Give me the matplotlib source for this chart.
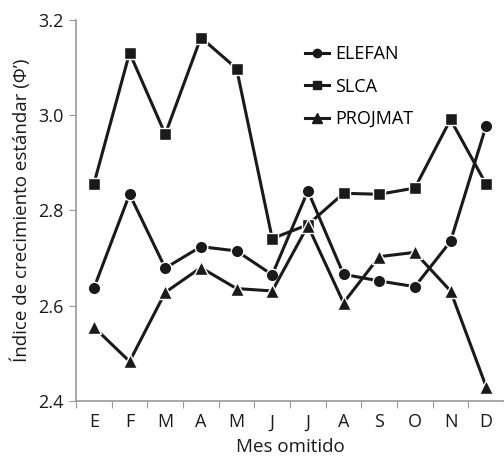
import matplotlib
matplotlib.use('Agg')
import matplotlib.pyplot as plt
from matplotlib.lines import Line2D

meses = ['E', 'F', 'M', 'A', 'M', 'J', 'J', 'A', 'S', 'O', 'N', 'D']
elefan = [2.637, 2.834, 2.679, 2.724, 2.715, 2.665, 2.841, 2.666, 2.652, 2.640, 2.735, 2.978]
slca = [2.856, 3.131, 2.960, 3.163, 3.098, 2.741, 2.770, 2.836, 2.834, 2.847, 2.991, 2.855]
projmat = [2.555, 2.483, 2.628, 2.680, 2.636, 2.631, 2.768, 2.606, 2.703, 2.712, 2.631, 2.430]

plt.rcParams['font.family'] = ['Open Sans', 'DejaVu Sans']
ink = '#1a1a1a'

fig = plt.figure(figsize=(5.04, 4.58), dpi=100)
ax = fig.add_axes([0.151, 0.1245, 0.849, 0.832])

x = list(range(len(meses)))
common = dict(color=ink, lw=2.2, markeredgecolor='white', markeredgewidth=1.0)
ax.plot(x, elefan, marker='o', ms=9, **common)
ax.plot(x, slca, marker='s', ms=9, **common)
ax.plot(x, projmat, marker='^', ms=10, **common)

ax.set_xlim(-0.5, 11.5)
ax.set_ylim(2.4, 3.2)
ax.set_yticks([2.4, 2.6, 2.8, 3.0, 3.2])
ax.set_yticklabels(['2.4', '2.6', '2.8', '3.0', '3.2'])
ax.set_xticks([i + 0.5 for i in range(-1, 12)])
ax.set_xticklabels([])
ax.set_xticks(x, minor=True)
ax.set_xticklabels(meses, minor=True)
ax.tick_params(axis='x', which='minor', length=0, labelsize=13, pad=9, colors=ink)
ax.tick_params(axis='x', which='major', length=5, color='#999999')
ax.tick_params(axis='y', length=5, color='#999999', labelsize=13, labelcolor=ink, pad=4)

for s in ['top', 'right']:
    ax.spines[s].set_visible(False)
for s in ['left', 'bottom']:
    ax.spines[s].set_color('#999999')
    ax.spines[s].set_linewidth(1.2)

ax.set_xlabel('Mes omitido', fontsize=13.5, color=ink, labelpad=5)
ax.set_ylabel('Índice de crecimiento estándar (Φ’)', fontsize=13.5, color=ink, labelpad=5)

handles = [Line2D([], [], color=ink, lw=2.2, marker=m, ms=s) for m, s in [('o', 6), ('s', 6), ('^', 7)]]
ax.legend(handles, ['ELEFAN', 'SLCA', 'PROJMAT'], loc='upper left', bbox_to_anchor=(0.498, 0.976),
          frameon=False, fontsize=13, handlelength=1.3, handletextpad=0.35, labelspacing=0.8)

fig.savefig('out.png', dpi=100)
